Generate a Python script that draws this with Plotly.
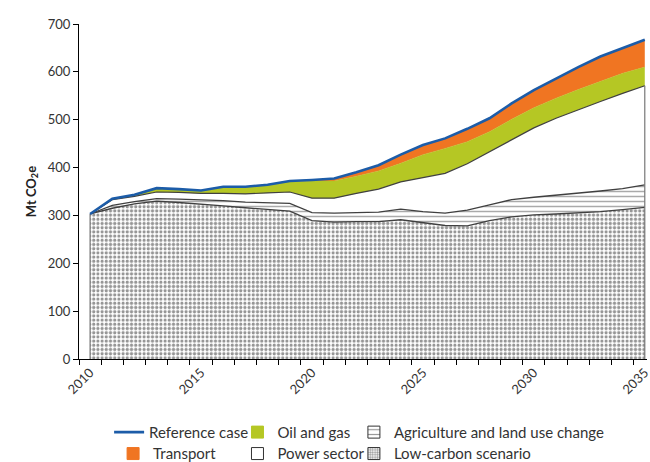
import plotly.graph_objects as go

years = list(range(2010, 2036))

# Stacked components (Mt CO2e)
low_carbon = [303, 315, 324, 330, 327, 324, 320, 316, 312, 309, 289, 286, 287, 287, 291, 285,
              279, 278, 289, 297, 301, 303, 305, 308, 312, 317]
agriculture = [0, 6, 5, 5, 7, 9, 11, 12, 14, 16, 17, 19, 19, 20, 22, 23,
               26, 33, 33, 36, 37, 39, 42, 43, 44, 47]
power = [0, 12, 11, 14, 14, 13, 15, 17, 21, 24, 30, 31, 40, 48, 57, 71,
         83, 97, 111, 126, 145, 161, 174, 187, 199, 207]
oil_gas = [0, 2, 3, 7, 6, 5, 13, 14, 16, 22, 36, 36, 36, 38, 39, 48,
           52, 46, 42, 42, 42, 42, 42, 42, 42, 39]
transport = [0, 0, 0, 1, 1, 1, 1, 1, 1, 1, 2, 5, 8, 12, 18, 20,
             21, 27, 28, 33, 37, 41, 47, 52, 52, 57]
reference = [303, 335, 343, 357, 355, 352, 360, 360, 364, 372, 374, 377, 390, 405, 427, 447,
             461, 481, 503, 534, 562, 586, 610, 632, 649, 667]

y_ticks = [0, 100, 200, 300, 400, 500, 600, 700]
x_ticks = [2010, 2015, 2020, 2025, 2030, 2035]

GREEN = "#b5c724"
ORANGE = "#f07522"
BLUE = "#1c5ca8"
EDGE = "#404040"
FONT = "Lato"

fig = go.Figure()

fig.add_trace(go.Scatter(
    x=years, y=low_carbon, stackgroup="s", mode="lines", showlegend=False,
    name="Low-carbon scenario",
    line=dict(color=EDGE, width=1.3),
    fillcolor="white",
    fillpattern=dict(shape=".", fgcolor="#2e2e2e", bgcolor="white", size=4.2, solidity=0.45),
))
fig.add_trace(go.Scatter(
    x=years, y=agriculture, stackgroup="s", mode="lines", showlegend=False,
    name="Agriculture and land use change",
    line=dict(color=EDGE, width=1.3),
    fillcolor="white",
    fillpattern=dict(shape="-", fgcolor="#555555", bgcolor="white", size=5, solidity=0.3),
))
fig.add_trace(go.Scatter(
    x=years, y=power, stackgroup="s", mode="lines", showlegend=False,
    name="Power sector",
    line=dict(color=EDGE, width=1.2),
    fillcolor="white",
))
fig.add_trace(go.Scatter(
    x=years, y=oil_gas, stackgroup="s", mode="lines", showlegend=False,
    name="Oil and gas",
    line=dict(color=GREEN, width=0.5),
    fillcolor=GREEN,
))
fig.add_trace(go.Scatter(
    x=years, y=transport, stackgroup="s", mode="lines", showlegend=False,
    name="Transport",
    line=dict(color=ORANGE, width=0.5),
    fillcolor=ORANGE,
))

# outer edges of the lower stack
power_top_end = low_carbon[-1] + agriculture[-1] + power[-1]
fig.add_trace(go.Scatter(
    x=[years[0], years[0], None, years[-1], years[-1]],
    y=[0, low_carbon[0], None, 0, power_top_end],
    mode="lines", line=dict(color="#777777", width=1.2), showlegend=False, hoverinfo="skip",
))

fig.add_trace(go.Scatter(
    x=years, y=reference, mode="lines", name="Reference case",
    line=dict(color=BLUE, width=2.6), legend="legend",
))

# legend-only entries
def legend_bar(name, leg, color, line_color, pattern=None):
    marker = dict(color=color, line=dict(color=line_color, width=1))
    if pattern:
        marker["pattern"] = pattern
    fig.add_trace(go.Bar(x=[None], y=[None], name=name, marker=marker, legend=leg))

legend_bar("Oil and gas", "legend2", GREEN, GREEN)
legend_bar("Agriculture and land use change", "legend3", "white", "#333333",
           dict(shape="-", fgcolor="#333333", bgcolor="white", size=6, solidity=0.25))
legend_bar("Transport", "legend4", ORANGE, ORANGE)
legend_bar("Power sector", "legend5", "white", "#333333")
legend_bar("Low-carbon scenario", "legend6", "white", "#333333",
           dict(shape=".", fgcolor="#333333", bgcolor="white", size=3, solidity=0.5))

leg_font = dict(family=FONT, size=15, color="#333333")
def leg(x, y):
    return dict(x=x, y=y, xanchor="left", yanchor="middle", orientation="h",
                bgcolor="rgba(0,0,0,0)", font=leg_font, borderwidth=0)

ROW1, ROW2 = -0.219, -0.283
fig.update_layout(
    width=650, height=462,
    margin=dict(l=79, r=3, t=24, b=103, autoexpand=False),
    paper_bgcolor="white", plot_bgcolor="white",
    font=dict(family=FONT, size=13, color="#333333"),
    showlegend=True,
    legend=leg(0.053, ROW1),
    legend2=leg(0.279, ROW1),
    legend3=leg(0.484, ROW1),
    legend4=leg(0.060, ROW2),
    legend5=leg(0.279, ROW2),
    legend6=leg(0.484, ROW2),
    xaxis=dict(
        range=[2009.5, 2035.1], showgrid=False, zeroline=False, automargin=False,
        showline=True, linecolor="black", linewidth=1,
        tickmode="array", tickvals=x_ticks, ticktext=[str(v) for v in x_ticks],
        ticks="", tickangle=-45, ticklabeloverflow="allow",
        tickfont=dict(family=FONT, size=13, color="#333333"),
        minor=dict(tick0=2009.5, dtick=1, ticks="outside", ticklen=5, tickcolor="black"),
    ),
    yaxis=dict(
        range=[0, 700], showgrid=False, zeroline=False, automargin=False,
        showline=True, linecolor="black", linewidth=1,
        tickmode="array", tickvals=y_ticks, ticks="outside", ticklen=5, tickcolor="black",
        tickfont=dict(family=FONT, size=13, color="#333333"),
        title=dict(text="<b>Mt CO<sub>2</sub>e</b>", font=dict(family=FONT, size=13, color="#222222"),
                   standoff=8),
    ),
)

fig.write_html(
    "out.html",
    config={"displayModeBar": False},
    post_script="document.body.style.margin='0';document.body.style.overflow='hidden';",
)
